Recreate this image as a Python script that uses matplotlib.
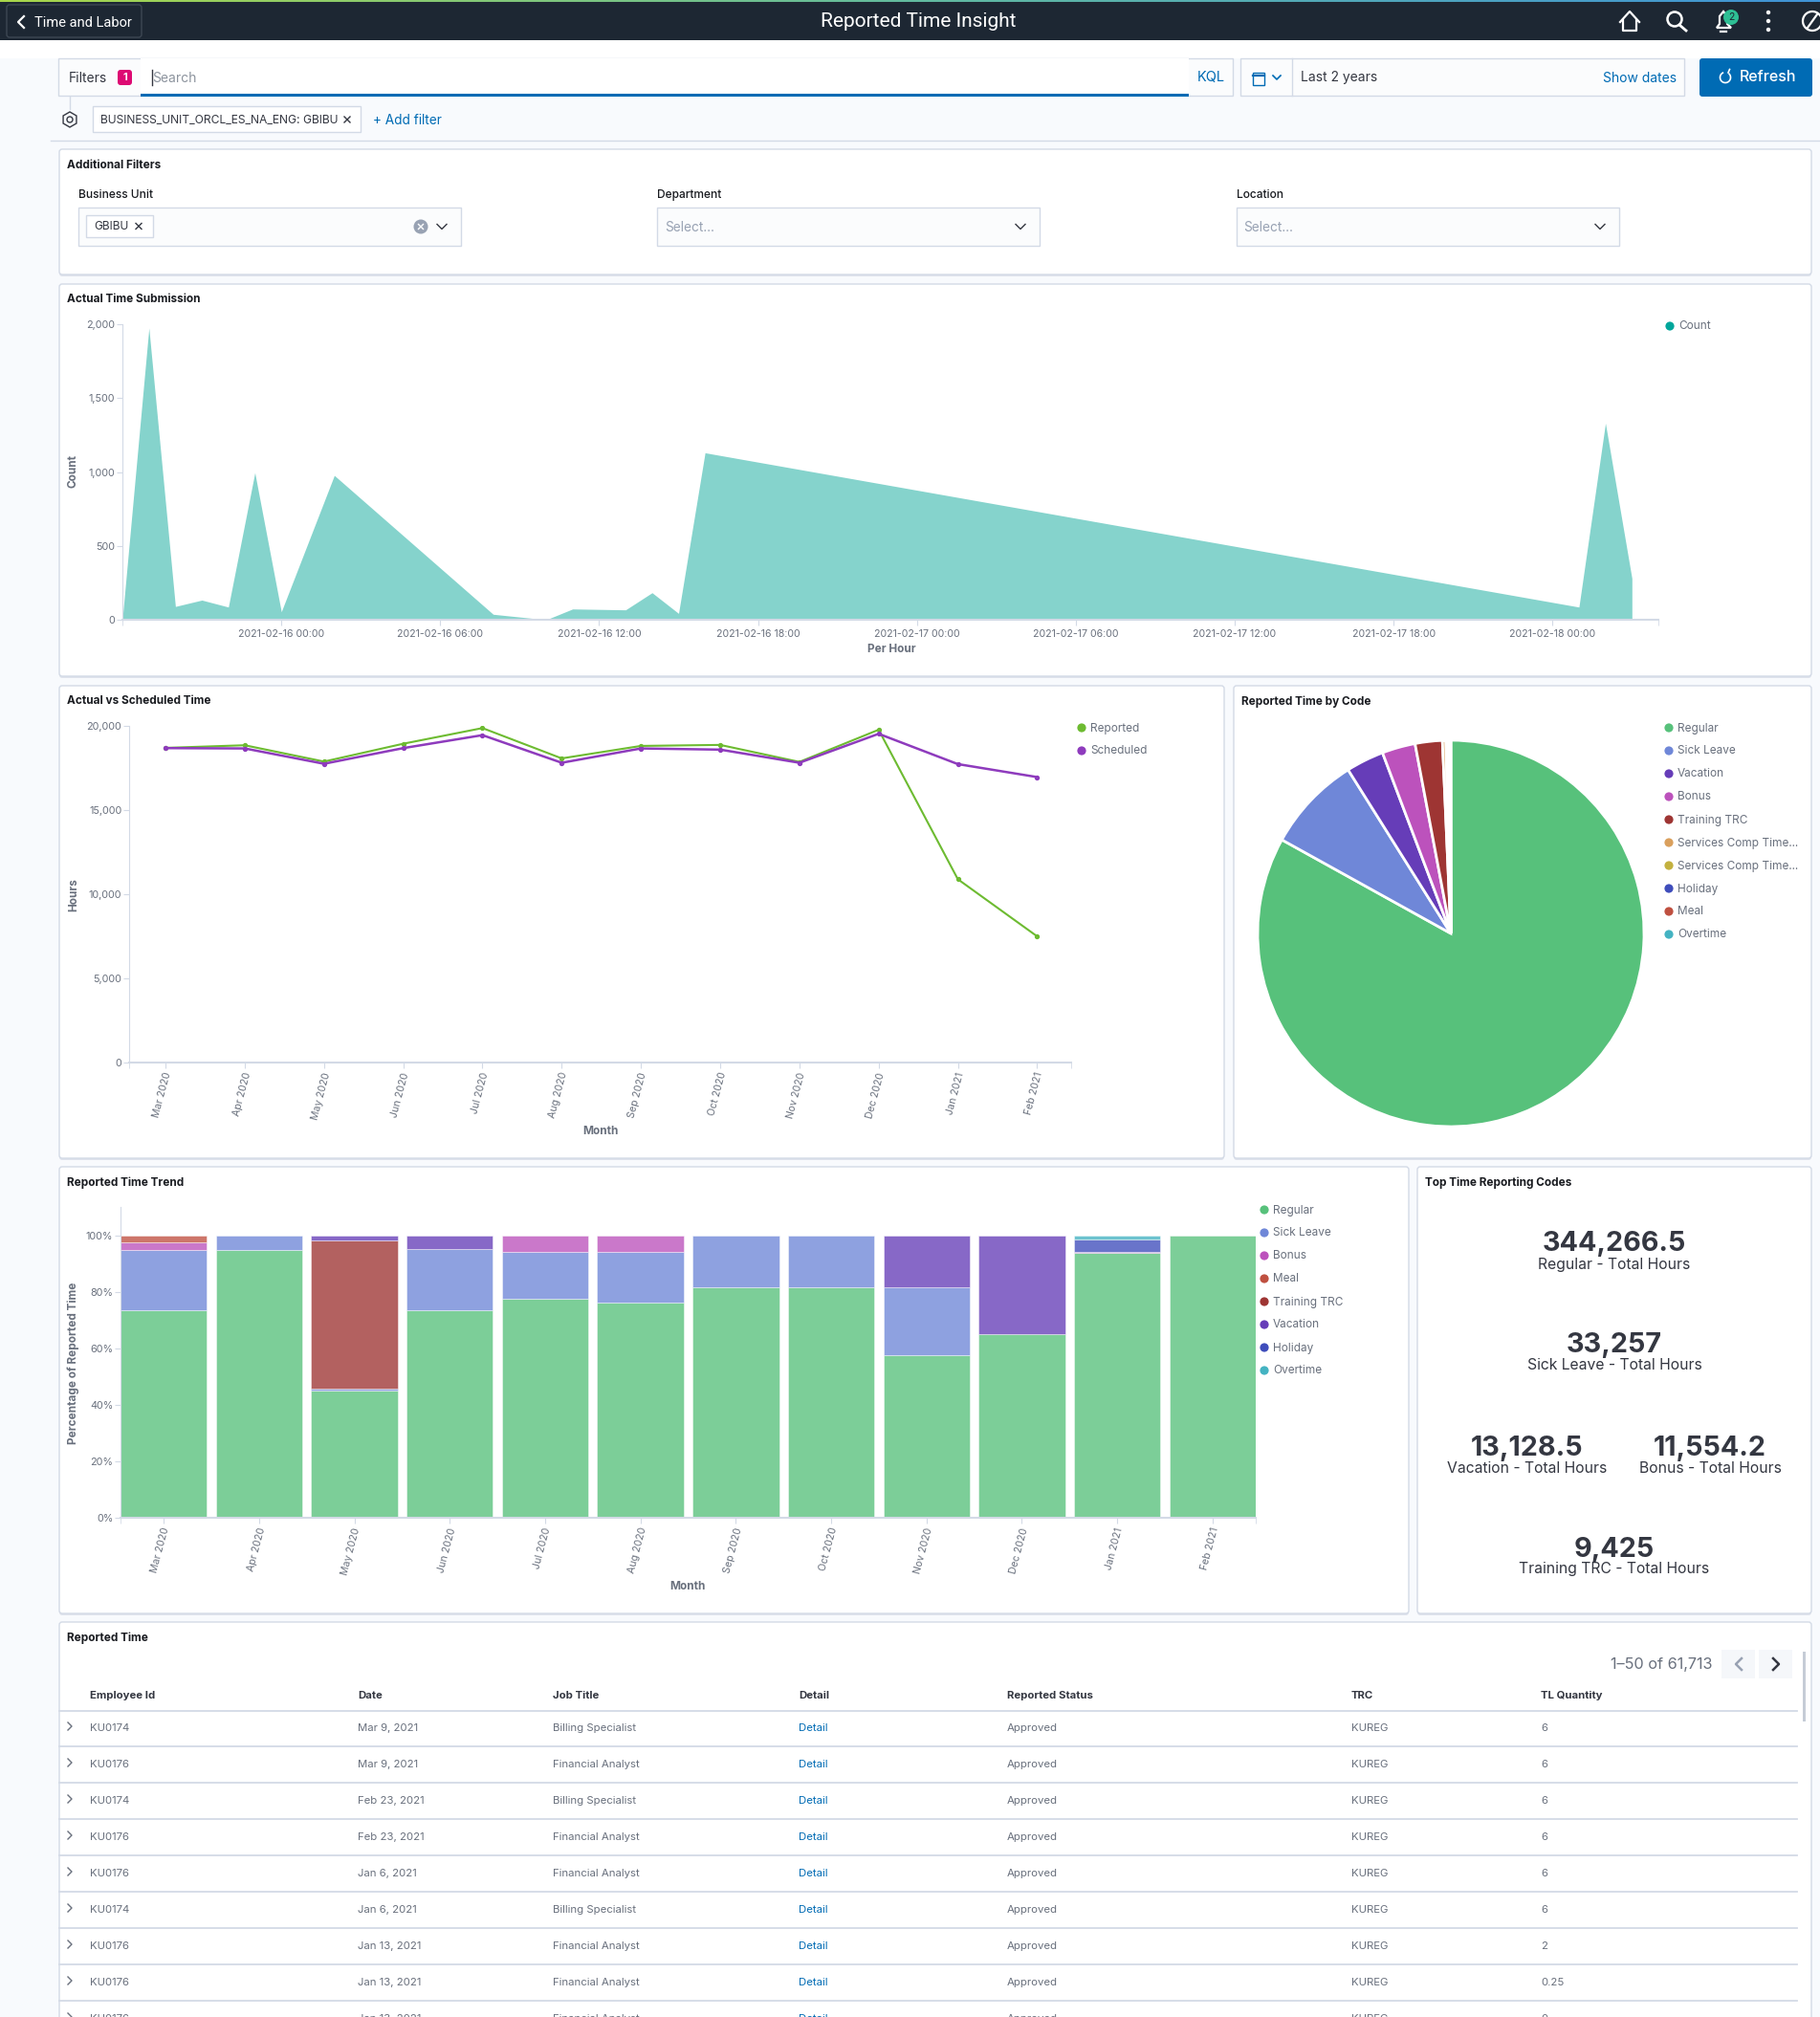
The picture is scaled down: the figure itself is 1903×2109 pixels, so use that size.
import numpy as np
import matplotlib
matplotlib.use('Agg')
import matplotlib.pyplot as plt
from matplotlib.patches import FancyBboxPatch, Rectangle, Circle, Polygon, Arc
from matplotlib.colors import LinearSegmentedColormap
from matplotlib.ticker import FuncFormatter
from matplotlib.transforms import ScaledTranslation

plt.rcParams['font.family'] = ['Inter', 'DejaVu Sans']

W, H = 1903, 2109

# Actual Time Submission, hours after 2021-02-15 18:00
submission_hours = [0, 1, 2, 3, 4, 5, 6, 8, 14, 16, 17, 19, 20, 21, 22, 55, 56, 57]
submission_counts = [10, 1974, 90, 133, 86, 995, 54, 977, 37, 0, 73, 67, 183, 43, 1130, 86, 1330, 280]
submission_tick_hours = [6, 12, 18, 24, 30, 36, 42, 48, 54]
submission_tick_labels = ['2021-02-16 00:00', '2021-02-16 06:00', '2021-02-16 12:00', '2021-02-16 18:00',
                          '2021-02-17 00:00', '2021-02-17 06:00', '2021-02-17 12:00', '2021-02-17 18:00',
                          '2021-02-18 00:00']

months = ['Mar 2020', 'Apr 2020', 'May 2020', 'Jun 2020', 'Jul 2020', 'Aug 2020',
          'Sep 2020', 'Oct 2020', 'Nov 2020', 'Dec 2020', 'Jan 2021', 'Feb 2021']
reported = [18696, 18850, 17880, 18940, 19870, 18070, 18810, 18870, 17860, 19770, 10890, 7500]
scheduled = [18680, 18660, 17750, 18680, 19450, 17810, 18660, 18590, 17810, 19530, 17730, 16960]

# Reported Time by Code
code_names = ['Regular', 'Sick Leave', 'Vacation', 'Bonus', 'Training TRC', 'Services Comp Time...',
              'Services Comp Time...', 'Holiday', 'Meal', 'Overtime']
code_hours = [344266.5, 33257, 13128.5, 11554.2, 9425, 1200, 900, 450, 250, 80]
code_colors = ['#57c17b', '#6f87d8', '#663db8', '#bc52bc', '#9e3533', '#daa05d', '#c3b13f', '#3f4dbb', '#bf5040', '#44b3c2']

# Reported Time Trend, percent per month
trend_names = ['Regular', 'Sick Leave', 'Bonus', 'Meal', 'Training TRC', 'Vacation', 'Holiday', 'Overtime']
trend_colors = ['#57c17b', '#6f87d8', '#bc52bc', '#bf5040', '#9e3533', '#663db8', '#3f4dbb', '#44b3c2']
trend_regular = [73.3, 94.8, 45.1, 73.3, 77.6, 76.3, 81.7, 81.6, 57.5, 65.0, 93.8, 100]
trend_sick = [21.5, 5.2, 0.45, 21.7, 16.4, 17.9, 18.3, 18.4, 24.0, 0, 0, 0]
trend_bonus = [2.8, 0, 0, 0, 6.0, 5.8, 0, 0, 0, 0, 0.45, 0]
trend_meal = [2.4, 0, 0, 0, 0, 0, 0, 0, 0, 0, 0, 0]
trend_training = [0, 0, 52.65, 0, 0, 0, 0, 0, 0, 0, 0, 0]
trend_vacation = [0, 0, 1.8, 5.0, 0, 0, 0, 0, 18.5, 35.0, 0, 0]
trend_holiday = [0, 0, 0, 0, 0, 0, 0, 0, 0, 0, 4.15, 0]
trend_overtime = [0, 0, 0, 0, 0, 0, 0, 0, 0, 0, 1.6, 0]
trend_series = [trend_regular, trend_sick, trend_bonus, trend_meal, trend_training,
                trend_vacation, trend_holiday, trend_overtime]

# Top Time Reporting Codes
metric_values = ['344,266.5', '33,257', '13,128.5', '11,554.2', '9,425']
metric_labels = ['Regular - Total Hours', 'Sick Leave - Total Hours', 'Vacation - Total Hours',
                 'Bonus - Total Hours', 'Training TRC - Total Hours']

# Reported Time table
table_columns = ['Employee Id', 'Date', 'Job Title', 'Detail', 'Reported Status', 'TRC', 'TL Quantity']
table_ids = ['KU0174', 'KU0176', 'KU0174', 'KU0176', 'KU0176', 'KU0174', 'KU0176', 'KU0176', 'KU0176']
table_dates = ['Mar 9, 2021', 'Mar 9, 2021', 'Feb 23, 2021', 'Feb 23, 2021', 'Jan 6, 2021', 'Jan 6, 2021',
               'Jan 13, 2021', 'Jan 13, 2021', 'Jan 13, 2021']
table_jobs = ['Billing Specialist', 'Financial Analyst', 'Billing Specialist', 'Financial Analyst',
              'Financial Analyst', 'Billing Specialist', 'Financial Analyst', 'Financial Analyst', 'Financial Analyst']
table_qty = ['6', '6', '6', '6', '6', '6', '2', '0.25', '0']

TXT = '#343741'
GREY = '#69707d'
BLUE = '#006bb4'
LINE = '#d3dae6'


def px_axes(left, top, right, bottom, **kw):
    return fig.add_axes([left / W, 1 - bottom / H, (right - left) / W, (bottom - top) / H], **kw)


def panel(x0, y0, x1, y1, title=None):
    bg.add_patch(FancyBboxPatch((x0, y0 + 2), x1 - x0, y1 - y0, boxstyle='round,pad=0,rounding_size=3',
                                fc='#dfe3ec', ec='none'))
    bg.add_patch(FancyBboxPatch((x0, y0), x1 - x0, y1 - y0, boxstyle='round,pad=0,rounding_size=3',
                                fc='white', ec=LINE, lw=1))
    if title:
        bg.text(x0 + 8, y0 + 16.5, title, fontsize=8.5, fontweight='bold', color='#1a1c21', va='center')


def box(x0, y0, x1, y1, fc='#fbfcfd', ec=LINE, lw=1, z=2):
    bg.add_patch(Rectangle((x0, y0), x1 - x0, y1 - y0, fc=fc, ec=ec, lw=lw, zorder=z))


def chevron(x, y, s=4, d='down', color=GREY, lw=1.2):
    if d == 'down':
        xs, ys = [x - s, x, x + s], [y - s / 2, y + s / 2, y - s / 2]
    elif d == 'left':
        xs, ys = [x + s / 2, x - s / 2, x + s / 2], [y - s, y, y + s]
    else:
        xs, ys = [x - s / 2, x + s / 2, x - s / 2], [y - s, y, y + s]
    bg.plot(xs, ys, color=color, lw=lw, zorder=5)


def cross(x, y, s=3, color=TXT, lw=1):
    bg.plot([x - s, x + s], [y - s, y + s], color=color, lw=lw, zorder=5)
    bg.plot([x - s, x + s], [y + s, y - s], color=color, lw=lw, zorder=5)


def dot_legend(x, y, names, colors, step=24):
    for i, (n, c) in enumerate(zip(names, colors)):
        bg.add_patch(Circle((x, y + i * step), 4.6, fc=c, ec='none'))
        bg.text(x + 9, y + i * step + 0.5, n, fontsize=8.5, color=GREY, va='center')


def style_axis(ax, left, right, top, bottom, xlab_px, ylab_px):
    for s in ['top', 'right']:
        ax.spines[s].set_visible(False)
    ax.spines['left'].set_color(LINE)
    ax.spines['bottom'].set_color(LINE)
    ax.spines['bottom'].set_linewidth(1.5)
    ax.patch.set_alpha(0)
    ax.tick_params(axis='y', color=LINE, labelcolor=GREY, labelsize=7.8, length=4, pad=1.5)
    ax.tick_params(axis='x', which='both', color=LINE, labelcolor=GREY, labelsize=7.6, length=4.5, pad=3)
    ax.xaxis.set_label_coords((xlab_px[0] - left) / (right - left), (bottom - xlab_px[1]) / (bottom - top))
    ax.yaxis.set_label_coords((ylab_px[0] - left) / (right - left), (bottom - ylab_px[1]) / (bottom - top))
    ax.xaxis.label.set_va('center')
    ax.yaxis.label.set_va('center')


def rotate_month_labels(ax):
    nudge = ScaledTranslation(3 / 100, 0, fig.dpi_scale_trans)
    for lab in ax.get_xticklabels():
        lab.set_rotation(75)
        lab.set_rotation_mode('anchor')
        lab.set_ha('right')
        lab.set_va('center')
        lab.set_transform(lab.get_transform() + nudge)


fig = plt.figure(figsize=(W / 100, H / 100), dpi=100, facecolor='#f8fafd')

# whole page in pixels, for the dashboard chrome
bg = fig.add_axes([0, 0, 1, 1])
bg.axis('off')

# header
bg.add_patch(Rectangle((0, 42), W, 19, fc='white', ec='none'))
bg.add_patch(Rectangle((0, 0), W, 42, fc='#1d2733', ec='none'))
strip = LinearSegmentedColormap.from_list('strip', ['#a8d64a', '#62bb9f', '#3f93d6'])
bg.imshow(np.linspace(0, 1, 300).reshape(1, -1), cmap=strip, extent=(0, W, 2, 0), aspect='auto', zorder=2)
bg.add_patch(FancyBboxPatch((7, 5), 141, 34, boxstyle='round,pad=0,rounding_size=3', fc='none', ec='#3d4753', lw=1))
chevron(22, 23, 6, 'left', 'white', 1.6)
bg.text(36, 24, 'Time and Labor', fontsize=10.5, family=['Roboto', 'DejaVu Sans'], color='white', va='center')
bg.text(960, 23, 'Reported Time Insight', fontsize=15, family=['Roboto', 'DejaVu Sans'], color='white', va='center', ha='center')

# home, search, bell, dots, compass
bg.plot([1694, 1704, 1714], [23, 12, 23], color='white', lw=1.6)
bg.plot([1697, 1697, 1711, 1711], [21, 32, 32, 21], color='white', lw=1.6)
bg.add_patch(Circle((1751, 20), 7.5, fc='none', ec='white', lw=1.8))
bg.plot([1756, 1763], [26, 32], color='white', lw=2)
bg.add_patch(Polygon([[1795, 29], [1798, 25], [1798, 17], [1802, 12], [1806, 17], [1806, 25], [1810, 29]],
                     closed=True, fc='none', ec='white', lw=1.6))
bg.plot([1799, 1805], [33, 33], color='white', lw=1.6)
bg.add_patch(Circle((1810, 18), 8, fc='#2ebf94', ec='none', zorder=4))
bg.text(1810, 18, '2', fontsize=7.5, color='#1d2733', ha='center', va='center', zorder=5)
for yy in [13, 22, 31]:
    bg.add_patch(Circle((1849, yy), 2.2, fc='white', ec='none'))
bg.add_patch(Circle((1895, 22), 10, fc='none', ec='white', lw=1.6))
bg.plot([1890, 1900], [29, 15], color='white', lw=1.6)

# query bar
box(61, 61, 1289, 100)
box(147, 61, 1243, 98, fc='white', ec='none', z=3)
bg.add_patch(Rectangle((147, 98), 1096, 2.5, fc=BLUE, ec='none', zorder=4))
bg.text(72, 81.5, 'Filters', fontsize=10, color=TXT, va='center', zorder=5)
bg.add_patch(FancyBboxPatch((123, 73), 15, 16, boxstyle='round,pad=0,rounding_size=3', fc='#dd0a73', ec='none', zorder=5))
bg.text(130.5, 81, '1', fontsize=8, fontweight='bold', color='white', ha='center', va='center', zorder=6)
bg.plot([159, 159], [73, 89], color=TXT, lw=1, zorder=5)
bg.text(159, 81.5, 'Search', fontsize=10, color='#8d949e', va='center', zorder=5)
bg.text(1252, 81.5, 'KQL', fontsize=10.5, color=BLUE, va='center', zorder=5)
box(1297, 61, 1761, 100)
bg.plot([1351, 1351], [61, 100], color=LINE, lw=1, zorder=5)
box(1310, 76, 1322, 89, fc='none', ec=BLUE, lw=1, z=5)
bg.plot([1310, 1322], [79, 79], color=BLUE, lw=1.6, zorder=5)
chevron(1335, 81, 4, 'down', BLUE)
bg.text(1360, 81.5, 'Last 2 years', fontsize=10, color=TXT, va='center', zorder=5)
bg.text(1753, 81.5, 'Show dates', fontsize=10, color=BLUE, va='center', ha='right', zorder=5)
bg.add_patch(FancyBboxPatch((1777, 61), 118, 40, boxstyle='round,pad=0,rounding_size=3', fc=BLUE, ec='none', zorder=5))
bg.text(1819, 80.5, 'Refresh', fontsize=11.5, fontweight='medium', color='white', va='center', zorder=6)
bg.add_patch(Arc((1804, 81), 11, 11, theta1=-50, theta2=250, ec='white', lw=1.2, zorder=6))
bg.plot([1807, 1808.5], [76, 72.5], color='white', lw=1.2, zorder=6)

# filter row
gear_a = np.deg2rad(np.arange(30, 390, 60))
bg.add_patch(Polygon(np.column_stack([73 + 8 * np.cos(gear_a), 125 + 8 * np.sin(gear_a)]), closed=True,
                     fc='none', ec=TXT, lw=1))
bg.add_patch(Circle((73, 125), 3, fc='none', ec=TXT, lw=1))
bg.plot([73, 73], [101, 114], color=LINE, lw=1)
box(97, 111, 377, 138, fc='white')
bg.text(105, 125.5, 'BUSINESS_UNIT_ORCL_ES_NA_ENG: GBIBU', fontsize=8.7, color=TXT, va='center', zorder=5)
cross(363, 125, 3)
bg.text(390, 126, '+ Add filter', fontsize=9.8, color=BLUE, va='center')
bg.plot([53, W], [147, 147], color=LINE, lw=1)

# additional filters
panel(62, 156, 1894, 287, 'Additional Filters')
for lx, lab in zip([82, 687, 1293], ['Business Unit', 'Department', 'Location']):
    bg.text(lx, 204, lab, fontsize=8.6, fontweight='medium', color='#1a1c21', va='center', zorder=5)
    box(lx, 217, lx + 400, 257)
box(90, 225, 160, 248, fc='white', z=4)
bg.text(98, 237.5, 'GBIBU', fontsize=8.6, color=TXT, va='center', zorder=5)
cross(145, 236.5, 3)
bg.add_patch(Circle((440, 237), 7.5, fc='#98a2b3', ec='none', zorder=4))
cross(440, 237, 2.5, 'white')
chevron(462, 237, 5, 'down', TXT, 1)
chevron(1067, 237, 5, 'down', TXT, 1)
chevron(1673, 237, 5, 'down', TXT, 1)
bg.text(695, 238, 'Select...', fontsize=9.8, color='#98a2b3', va='center', zorder=5)
bg.text(1300, 238, 'Select...', fontsize=9.8, color='#98a2b3', va='center', zorder=5)

# Actual Time Submission
panel(62, 297, 1894, 707, 'Actual Time Submission')
l1, t1, r1, b1 = 128, 339, 1734, 648
ax1 = px_axes(l1, t1, r1, b1)
ax1.fill_between(submission_hours, submission_counts, color='#85d3cc', lw=0)
ax1.set_xlim(0, 58)
ax1.set_ylim(0, 2000)
ax1.set_yticks([0, 500, 1000, 1500, 2000])
ax1.yaxis.set_major_formatter(FuncFormatter(lambda v, p: f'{int(v):,}'))
ax1.set_xticks(submission_tick_hours)
ax1.set_xticklabels(submission_tick_labels)
ax1.set_xticks([0, 58], minor=True)
ax1.set_xlabel('Per Hour', fontsize=8.5, fontweight='bold', color=GREY)
ax1.set_ylabel('Count', fontsize=8.5, fontweight='bold', color=GREY)
style_axis(ax1, l1, r1, t1, b1, (932, 679), (77, 493))
dot_legend(1746, 341, ['Count'], ['#00a69b'])

# Actual vs Scheduled Time
panel(62, 717, 1280, 1211, 'Actual vs Scheduled Time')
l3, t3, r3, b3 = 135, 759, 1120, 1111
ax3 = px_axes(l3, t3, r3, b3)
xpos = np.arange(len(months))
ax3.plot(xpos, reported, color='#6dbb31', lw=1.5, marker='o', ms=2.8)
ax3.plot(xpos, scheduled, color='#8e3bbd', lw=1.8, marker='o', ms=2.8)
ax3.set_xlim(-0.46, 11.43)
ax3.set_ylim(0, 20000)
ax3.set_yticks([0, 5000, 10000, 15000, 20000])
ax3.yaxis.set_major_formatter(FuncFormatter(lambda v, p: f'{int(v):,}'))
ax3.set_xticks(xpos)
ax3.set_xticklabels(months)
ax3.set_xticks([-0.46, 11.43], minor=True)
ax3.set_xlabel('Month', fontsize=8.5, fontweight='bold', color=GREY)
ax3.set_ylabel('Hours', fontsize=8.5, fontweight='bold', color=GREY)
style_axis(ax3, l3, r3, t3, b3, (628, 1183), (77, 936))
rotate_month_labels(ax3)
dot_legend(1131, 761, ['Reported', 'Scheduled'], ['#6dbb31', '#8e3bbd'])

# Reported Time by Code
panel(1290, 717, 1894, 1211, 'Reported Time by Code')
ax4 = px_axes(1315, 774, 1719, 1178)
ax4.pie(code_hours, colors=code_colors, startangle=90, counterclock=False, radius=1,
        wedgeprops={'edgecolor': 'white', 'linewidth': 2})
ax4.set_xlim(-1, 1)
ax4.set_ylim(-1, 1)
dot_legend(1745, 761, code_names, code_colors)

# Reported Time Trend
panel(62, 1220, 1473, 1687, 'Reported Time Trend')
l5, t5, r5, b5 = 126, 1262, 1313, 1587
ax5 = px_axes(l5, t5, r5, b5)
bar_w = 0.906
bottom = np.zeros(len(months))
for vals, col in zip(trend_series, trend_colors):
    vals = np.array(vals, dtype=float)
    keep = vals > 0
    ax5.bar(xpos[keep], vals[keep], bottom=bottom[keep], width=bar_w, color=col, alpha=0.78,
            edgecolor='white', linewidth=0.4)
    bottom += vals
ax5.set_xlim(-bar_w / 2, 11 + bar_w / 2)
ax5.set_ylim(0, 110)
ax5.set_yticks([0, 20, 40, 60, 80, 100])
ax5.yaxis.set_major_formatter(FuncFormatter(lambda v, p: f'{int(v)}%'))
ax5.set_xticks(xpos)
ax5.set_xticklabels(months)
ax5.set_xticks([-bar_w / 2, 11 + bar_w / 2], minor=True)
ax5.set_xlabel('Month', fontsize=8.5, fontweight='bold', color=GREY)
ax5.set_ylabel('Percentage of Reported Time', fontsize=8.5, fontweight='bold', color=GREY)
style_axis(ax5, l5, r5, t5, b5, (719, 1659), (77, 1425))
rotate_month_labels(ax5)
dot_legend(1322, 1265, trend_names, trend_colors)

# Top Time Reporting Codes
panel(1482, 1220, 1894, 1687, 'Top Time Reporting Codes')
metric_x = [1688, 1688, 1597, 1788, 1688]
metric_y = [1301, 1407, 1514, 1514, 1620]
for mx, my, mv, ml in zip(metric_x, metric_y, metric_values, metric_labels):
    bg.text(mx, my, mv, fontsize=20.7, fontweight='bold', color=TXT, ha='center', va='center')
    bg.text(mx, my + 21, ml, fontsize=11.3, color=TXT, ha='center', va='center')

# Reported Time
panel(62, 1696, 1894, 2130, 'Reported Time')
bg.text(1790, 1740, '1–50 of 61,713', fontsize=11.7, color=GREY, ha='right', va='center')
box(1800, 1725, 1835, 1755, fc='#f5f7fa', ec='none')
box(1839, 1725, 1874, 1755, fc='#f5f7fa', ec='none')
chevron(1818, 1740, 6, 'left', '#98a2b3', 1.8)
chevron(1857, 1740, 6, 'right', TXT, 1.8)
bg.add_patch(Rectangle((1885, 1727), 3, 73, fc='#c5ccd6', ec='none'))
col_x = [94, 374, 578, 835, 1053, 1413, 1611]
for cx, name in zip(col_x, table_columns):
    bg.text(cx, 1773, name, fontsize=8.2, fontweight='bold', color=TXT, va='center')
bg.plot([62, 1879], [1789, 1789], color=LINE, lw=1.3)
for i in range(len(table_ids)):
    ry = 1806 + 38 * i
    chevron(73, ry - 1, 4, 'right', GREY, 1)
    row = [table_ids[i], table_dates[i], table_jobs[i], 'Detail', 'Approved', 'KUREG', table_qty[i]]
    for j, (cx, val) in enumerate(zip(col_x, row)):
        bg.text(cx, ry + 1, val, fontsize=8.2, color=BLUE if j == 3 else GREY, va='center')
    bg.plot([62, 1879], [ry + 20, ry + 20], color=LINE, lw=1.3)

bg.set_xlim(0, W)
bg.set_ylim(H, 0)

plt.savefig('out.png', dpi=100, facecolor=fig.get_facecolor())
